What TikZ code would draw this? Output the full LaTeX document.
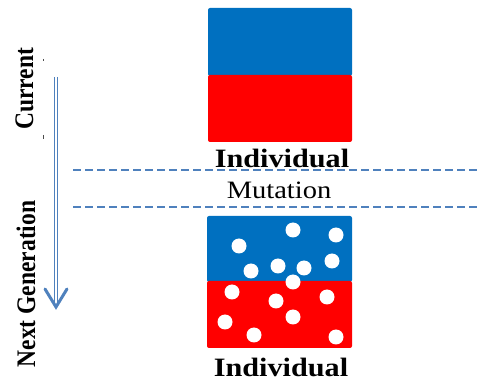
\documentclass[tikz,border=0pt]{standalone}
\usepackage{fontspec}
\setmainfont{Liberation Serif}
\definecolor{boxblue}{RGB}{0,112,192}
\definecolor{boxred}{RGB}{255,0,0}
\definecolor{lineblue}{RGB}{79,129,189}
\begin{document}
\begin{tikzpicture}[x=1pt,y=-1pt,
  half/.style={fill=#1, draw=none, rounded corners=2pt},
  dot/.style={circle, fill=white, draw=none, minimum size=15pt, inner sep=0pt},
  sepline/.style={lineblue, line width=1.6pt, dash pattern=on 8pt off 4pt},
  htext/.style={inner sep=0pt, xscale=1.14},
  vtext/.style={inner sep=0pt, xscale=1.14, rotate=90}]
\useasboundingbox (0,0) rectangle (480,382);
% top individual
\fill[boxblue, rounded corners=2pt] (208,8) rectangle (352,76);
\fill[boxred, rounded corners=2pt] (208,75) rectangle (352,142);
\node[htext, anchor=base, font=\fontsize{26.5}{30}\selectfont\bfseries] (ind1) at (282,168) {Individual};
% separators
\coordinate (d1a) at (73,170); \coordinate (d1b) at (480,170);
\coordinate (d2a) at (73,207); \coordinate (d2b) at (480,207);
\draw[sepline] (d1a) -- (d1b);
\draw[sepline] (d2a) -- (d2b);
\node[htext, anchor=base, font=\fontsize{25}{28}\selectfont] (mut) at (279,199) {Mutation};
% bottom individual
\fill[boxblue, rounded corners=2pt] (207,216) rectangle (352,282);
\fill[boxred, rounded corners=2pt] (207,281) rectangle (352,348);
\foreach \px/\py [count=\i] in {239/246,293/230,336/235,251/271,278/266,304/268,332/261,293/282,232/292,276/301,327/297,225/322,293/317,254/335,336/337}
  \node[dot] (p\i) at (\px,\py) {};
\node[htext, anchor=base, font=\fontsize{26.5}{30}\selectfont\bfseries] (ind2) at (281,377) {Individual};
% left arrow
\coordinate (as) at (56,77);
\coordinate (ae) at (56,304);
\draw[lineblue, double=white, double distance=2pt, line width=0.9pt] (as) -- (ae);
\coordinate (hl) at (45,289); \coordinate (ht) at (56,307); \coordinate (hr) at (67,289);
\draw[lineblue, line width=3pt, line join=miter, line cap=round] (hl) -- (ht) -- (hr);
% side labels
\node[vtext, anchor=base, font=\fontsize{23.5}{26}\selectfont\bfseries] (cur) at (33,89) {Current};
\node[vtext, anchor=base, font=\fontsize{23.5}{26}\selectfont\bfseries] (next) at (35,284) {Next Generation};
% tiny marks
\coordinate (m1a) at (43,59); \coordinate (m1b) at (43,61);
\coordinate (m2a) at (43,135); \coordinate (m2b) at (43,139);
\draw[black!70, line width=0.6pt] (m1a) -- (m1b);
\draw[black!70, line width=0.6pt] (m2a) -- (m2b);
\end{tikzpicture}
\end{document}
